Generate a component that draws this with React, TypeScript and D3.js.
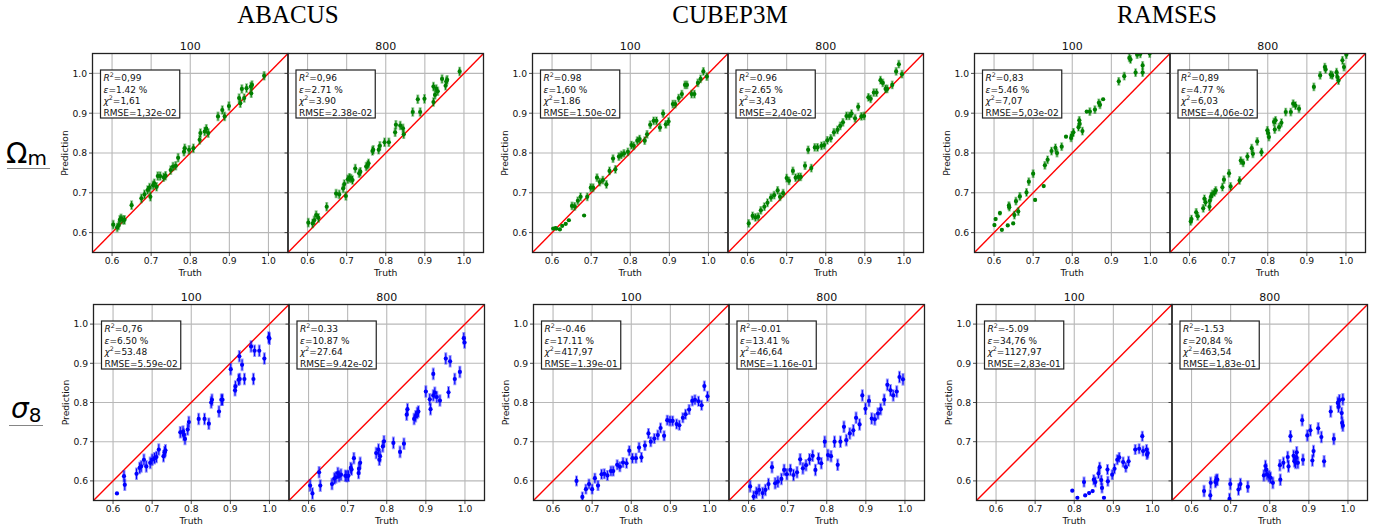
import React, { useEffect, useRef } from "react";
import * as d3 from "d3";

// ---------- labels ----------
const columns = ["ABACUS", "CUBEP3M", "RAMSES"];
const resolutions = ["100", "800"];
const tickValues = [0.6, 0.7, 0.8, 0.9, 1.0];
const tickLabels = ["0.6", "0.7", "0.8", "0.9", "1.0"];

// ---------- data: [truth, prediction, (optional) error] ----------
const abacusOm100 = [
  [0.603, 0.62], [0.613, 0.613], [0.617, 0.618], [0.62, 0.632], [0.623, 0.636], [0.628, 0.632], [0.632, 0.632],
  [0.65, 0.669], [0.675, 0.686], [0.683, 0.696], [0.691, 0.707], [0.696, 0.713], [0.698, 0.69], [0.705, 0.719],
  [0.708, 0.724], [0.714, 0.715], [0.717, 0.742], [0.723, 0.742], [0.732, 0.739], [0.737, 0.743], [0.75, 0.757],
  [0.756, 0.766], [0.763, 0.768], [0.769, 0.788], [0.784, 0.803], [0.786, 0.812], [0.797, 0.808], [0.808, 0.812],
  [0.824, 0.833], [0.826, 0.85], [0.837, 0.854], [0.841, 0.861], [0.846, 0.85], [0.871, 0.892], [0.882, 0.908],
  [0.888, 0.892], [0.899, 0.918], [0.925, 0.938], [0.928, 0.925], [0.932, 0.961], [0.938, 0.938], [0.944, 0.963],
  [0.955, 0.967], [0.958, 0.971], [0.956, 0.95], [0.989, 0.994],
];
const abacusOm800 = [
  [0.602, 0.625], [0.613, 0.623], [0.617, 0.631], [0.622, 0.644], [0.628, 0.637], [0.649, 0.665], [0.673, 0.698],
  [0.681, 0.696], [0.691, 0.711], [0.694, 0.722], [0.698, 0.692], [0.703, 0.734], [0.707, 0.738], [0.711, 0.736],
  [0.715, 0.732], [0.722, 0.761], [0.732, 0.749], [0.735, 0.753], [0.75, 0.766], [0.754, 0.77], [0.756, 0.774],
  [0.766, 0.805], [0.768, 0.808], [0.782, 0.808], [0.785, 0.818], [0.797, 0.827], [0.808, 0.827], [0.824, 0.852],
  [0.826, 0.871], [0.837, 0.869], [0.844, 0.862], [0.846, 0.847], [0.869, 0.903], [0.882, 0.935], [0.888, 0.903],
  [0.899, 0.936], [0.922, 0.928], [0.922, 0.967], [0.926, 0.946], [0.929, 0.961], [0.933, 0.955], [0.944, 0.986],
  [0.953, 0.969], [0.955, 0.98], [0.957, 0.984], [0.989, 1.005],
];
const abacusS8_100 = [
  [0.61, 0.568, 0.004], [0.628, 0.612], [0.63, 0.59], [0.66, 0.618], [0.668, 0.633], [0.672, 0.637], [0.679, 0.654],
  [0.685, 0.637], [0.695, 0.646], [0.7, 0.654], [0.706, 0.658], [0.711, 0.661], [0.717, 0.68], [0.729, 0.663],
  [0.732, 0.673], [0.734, 0.678], [0.772, 0.724], [0.779, 0.726], [0.781, 0.718], [0.784, 0.707], [0.791, 0.731],
  [0.794, 0.75], [0.819, 0.758], [0.834, 0.758], [0.845, 0.746], [0.851, 0.8], [0.853, 0.807], [0.871, 0.777],
  [0.877, 0.807], [0.88, 0.807], [0.901, 0.885], [0.912, 0.831], [0.913, 0.841], [0.921, 0.858], [0.923, 0.918],
  [0.924, 0.86], [0.93, 0.896], [0.936, 0.86], [0.953, 0.943], [0.959, 0.86], [0.962, 0.932], [0.974, 0.932],
  [0.987, 0.912], [0.998, 0.966], [1.0, 0.963],
];
const abacusS8_800 = [
  [0.604, 0.588], [0.61, 0.568], [0.627, 0.622], [0.63, 0.588], [0.66, 0.592], [0.666, 0.606], [0.67, 0.609],
  [0.675, 0.62], [0.678, 0.612], [0.683, 0.616], [0.694, 0.613], [0.698, 0.612], [0.702, 0.613], [0.708, 0.633],
  [0.71, 0.629], [0.716, 0.658], [0.728, 0.62], [0.729, 0.631], [0.732, 0.646], [0.773, 0.671], [0.779, 0.68],
  [0.781, 0.654], [0.783, 0.663], [0.79, 0.688], [0.793, 0.701], [0.817, 0.697], [0.834, 0.674], [0.844, 0.695],
  [0.851, 0.769], [0.853, 0.783], [0.87, 0.758], [0.874, 0.765], [0.878, 0.773], [0.881, 0.777], [0.9, 0.828],
  [0.91, 0.808], [0.912, 0.783], [0.919, 0.873], [0.919, 0.818], [0.923, 0.825], [0.928, 0.814], [0.936, 0.805],
  [0.951, 0.912], [0.958, 0.826], [0.962, 0.905], [0.974, 0.86], [0.987, 0.878], [0.997, 0.964], [0.999, 0.953],
];
const cubeOm100 = [
  [0.603, 0.61, 0.004], [0.609, 0.611, 0.004], [0.611, 0.61, 0.004], [0.62, 0.608, 0.004], [0.626, 0.617, 0.004],
  [0.635, 0.622, 0.004], [0.643, 0.631, 0.004], [0.651, 0.667], [0.658, 0.666], [0.666, 0.68], [0.673, 0.69],
  [0.682, 0.643, 0.004], [0.69, 0.69], [0.699, 0.713], [0.705, 0.713], [0.715, 0.738], [0.722, 0.727], [0.73, 0.732],
  [0.739, 0.721], [0.747, 0.755], [0.756, 0.786], [0.762, 0.759], [0.771, 0.791], [0.777, 0.795], [0.784, 0.799],
  [0.794, 0.803], [0.803, 0.82], [0.809, 0.818], [0.818, 0.831], [0.824, 0.835], [0.837, 0.831], [0.843, 0.847],
  [0.851, 0.871], [0.86, 0.881], [0.867, 0.881], [0.876, 0.864], [0.884, 0.899], [0.891, 0.872], [0.898, 0.879],
  [0.909, 0.923], [0.915, 0.923], [0.924, 0.938], [0.932, 0.948], [0.94, 0.971], [0.945, 0.971], [0.957, 0.948],
  [0.964, 0.948], [0.973, 0.976], [0.98, 0.986], [0.987, 1.005], [0.996, 0.992],
];
const cubeOm800 = [
  [0.603, 0.623], [0.613, 0.642], [0.62, 0.638], [0.627, 0.64], [0.634, 0.656], [0.643, 0.665], [0.651, 0.675],
  [0.66, 0.688], [0.668, 0.694], [0.677, 0.706], [0.683, 0.69], [0.691, 0.699], [0.7, 0.737], [0.706, 0.73],
  [0.716, 0.755], [0.723, 0.738], [0.73, 0.74], [0.736, 0.74], [0.747, 0.768], [0.755, 0.808], [0.763, 0.762],
  [0.772, 0.814], [0.779, 0.814], [0.789, 0.818], [0.796, 0.82], [0.804, 0.832], [0.813, 0.837], [0.821, 0.852],
  [0.83, 0.858], [0.837, 0.868], [0.844, 0.877], [0.853, 0.893], [0.86, 0.893], [0.866, 0.899], [0.875, 0.887],
  [0.883, 0.916], [0.891, 0.892], [0.898, 0.893], [0.909, 0.94], [0.915, 0.936], [0.923, 0.952], [0.93, 0.952],
  [0.94, 0.983], [0.946, 0.976], [0.953, 0.961], [0.957, 0.961], [0.97, 0.971], [0.98, 1.005], [0.987, 1.023],
  [0.995, 0.998],
];
const cubeS8_100 = [
  [0.66, 0.6], [0.675, 0.559], [0.684, 0.579], [0.692, 0.592], [0.7, 0.579], [0.707, 0.607], [0.715, 0.588],
  [0.724, 0.617], [0.731, 0.618], [0.739, 0.614], [0.748, 0.625], [0.754, 0.625], [0.764, 0.641], [0.771, 0.636],
  [0.779, 0.647], [0.788, 0.645], [0.795, 0.677], [0.803, 0.658], [0.812, 0.658], [0.82, 0.685], [0.826, 0.66],
  [0.835, 0.69], [0.844, 0.721], [0.85, 0.7], [0.859, 0.708], [0.868, 0.717], [0.875, 0.735], [0.884, 0.715],
  [0.892, 0.755], [0.899, 0.753], [0.906, 0.753], [0.916, 0.745], [0.923, 0.742], [0.932, 0.761], [0.939, 0.77],
  [0.948, 0.782], [0.956, 0.804], [0.963, 0.807], [0.972, 0.803], [0.98, 0.793], [0.987, 0.842], [0.995, 0.816],
];
const cubeS8_800 = [
  [0.604, 0.586], [0.613, 0.56], [0.62, 0.57], [0.627, 0.577], [0.636, 0.569], [0.643, 0.577], [0.651, 0.592],
  [0.66, 0.635], [0.668, 0.594], [0.675, 0.598], [0.684, 0.605], [0.691, 0.628], [0.698, 0.617], [0.707, 0.628],
  [0.715, 0.615], [0.724, 0.622], [0.732, 0.655], [0.739, 0.632], [0.747, 0.64], [0.756, 0.655], [0.764, 0.664],
  [0.771, 0.628], [0.779, 0.657], [0.786, 0.645], [0.795, 0.7], [0.803, 0.666], [0.811, 0.663], [0.82, 0.7],
  [0.828, 0.641], [0.835, 0.7], [0.844, 0.738], [0.85, 0.704], [0.859, 0.721], [0.868, 0.729], [0.875, 0.761],
  [0.884, 0.744], [0.891, 0.818], [0.899, 0.784], [0.908, 0.804], [0.915, 0.759], [0.923, 0.757], [0.931, 0.772],
  [0.938, 0.783], [0.947, 0.807], [0.955, 0.845], [0.963, 0.831], [0.97, 0.818], [0.979, 0.828], [0.986, 0.865],
  [0.995, 0.859],
];
const ramsesOm100 = [
  [0.601, 0.619, 0.005], [0.604, 0.634, 0.005], [0.615, 0.649, 0.006], [0.62, 0.607, 0.004], [0.635, 0.618, 0.004],
  [0.638, 0.668], [0.639, 0.664], [0.649, 0.623, 0.004], [0.652, 0.644], [0.656, 0.679], [0.662, 0.653],
  [0.666, 0.691], [0.683, 0.701], [0.689, 0.728], [0.7, 0.748], [0.705, 0.682, 0.004], [0.727, 0.717, 0.004],
  [0.73, 0.769], [0.737, 0.783], [0.747, 0.805], [0.757, 0.813], [0.761, 0.8], [0.773, 0.816], [0.784, 0.841, 0.004],
  [0.797, 0.838], [0.799, 0.844], [0.803, 0.852], [0.816, 0.865], [0.818, 0.882], [0.819, 0.873], [0.826, 0.855],
  [0.837, 0.904, 0.004], [0.845, 0.904], [0.858, 0.909], [0.868, 0.926], [0.871, 0.921], [0.879, 0.935, 0.004],
  [0.919, 0.98], [0.933, 0.993], [0.946, 1.039], [0.949, 1.035], [0.962, 1.002], [0.966, 1.047], [0.974, 1.049],
  [0.98, 1.02], [0.98, 1.002], [0.998, 1.05],
];
const ramsesOm800 = [
  [0.603, 0.628], [0.605, 0.634], [0.617, 0.651], [0.621, 0.641], [0.635, 0.661], [0.638, 0.685], [0.641, 0.676],
  [0.651, 0.665], [0.652, 0.68], [0.655, 0.691], [0.658, 0.697], [0.664, 0.701], [0.667, 0.706], [0.684, 0.714],
  [0.688, 0.733], [0.701, 0.749], [0.705, 0.716], [0.728, 0.731], [0.731, 0.781], [0.737, 0.775], [0.748, 0.791],
  [0.759, 0.812], [0.762, 0.798], [0.773, 0.829], [0.784, 0.802], [0.799, 0.857], [0.801, 0.85], [0.803, 0.84],
  [0.816, 0.878], [0.818, 0.859], [0.82, 0.882], [0.829, 0.865], [0.835, 0.876], [0.846, 0.903], [0.859, 0.903],
  [0.865, 0.924], [0.871, 0.919], [0.88, 0.911], [0.918, 0.966], [0.934, 0.995], [0.946, 1.016], [0.948, 1.01],
  [0.961, 0.997], [0.965, 0.995], [0.976, 1.003], [0.978, 0.991], [0.981, 0.982], [0.991, 1.033], [0.995, 1.016],
  [1.001, 1.047],
];
const ramsesS8_100 = [
  [0.795, 0.575, 0.004], [0.808, 0.557, 0.004], [0.825, 0.597], [0.828, 0.563, 0.004], [0.838, 0.569, 0.004],
  [0.847, 0.574, 0.004], [0.85, 0.603], [0.854, 0.597], [0.862, 0.619], [0.865, 0.635], [0.869, 0.602],
  [0.871, 0.582], [0.876, 0.557, 0.004], [0.885, 0.629], [0.886, 0.599], [0.897, 0.616], [0.903, 0.631],
  [0.91, 0.654], [0.915, 0.66], [0.925, 0.648], [0.932, 0.635], [0.939, 0.65], [0.956, 0.68], [0.966, 0.682],
  [0.974, 0.714], [0.976, 0.676], [0.985, 0.68], [0.986, 0.667], [0.988, 0.671],
];
const ramsesS8_800 = [
  [0.632, 0.574], [0.648, 0.563], [0.649, 0.595], [0.661, 0.597], [0.663, 0.602], [0.666, 0.603], [0.697, 0.554],
  [0.699, 0.592], [0.72, 0.578], [0.725, 0.592], [0.744, 0.585], [0.785, 0.614], [0.789, 0.638], [0.791, 0.629],
  [0.793, 0.617], [0.798, 0.612], [0.802, 0.608], [0.808, 0.595], [0.826, 0.64], [0.827, 0.603], [0.835, 0.646],
  [0.846, 0.661], [0.848, 0.637], [0.853, 0.714], [0.861, 0.664], [0.863, 0.65], [0.866, 0.646], [0.868, 0.66],
  [0.869, 0.673], [0.872, 0.646], [0.883, 0.755], [0.885, 0.654], [0.896, 0.716], [0.904, 0.729], [0.909, 0.652],
  [0.912, 0.676], [0.924, 0.734], [0.932, 0.712], [0.939, 0.65], [0.956, 0.777], [0.964, 0.707], [0.974, 0.799],
  [0.976, 0.789], [0.978, 0.806], [0.984, 0.773], [0.985, 0.748], [0.987, 0.808], [0.987, 0.741],
];

// ---------- stats shown in boxes: R2, epsilon, chi2, RMSE ----------
const abacusOm100Stats = ["0,99", "1.42", "1,61", "1,32e-02"];
const abacusOm800Stats = ["0,96", "2.71", "3.90", "2.38e-02"];
const cubeOm100Stats = ["0.98", "1,60", "1.86", "1.50e-02"];
const cubeOm800Stats = ["0.96", "2.65", "3,43", "2,40e-02"];
const ramsesOm100Stats = ["0,83", "5.46", "7,07", "5,03e-02"];
const ramsesOm800Stats = ["0,89", "4.77", "6,03", "4,06e-02"];
const abacusS8_100Stats = ["0,76", "6.50", "53.48", "5.59e-02"];
const abacusS8_800Stats = ["0.33", "10.87", "27.64", "9.42e-02"];
const cubeS8_100Stats = ["-0.46", "17.11", "417,97", "1.39e-01"];
const cubeS8_800Stats = ["-0.01", "13.41", "46,64", "1.16e-01"];
const ramsesS8_100Stats = ["-5.09", "34,76", "1127,97", "2,83e-01"];
const ramsesS8_800Stats = ["-1.53", "20,84", "463,54", "1,83e-01"];

// ---------- layout ----------
const W = 1392;
const H = 531;
const PW = 195.5;
const rowTop = [53.5, 304.5];
const rowBottom = [252.5, 500.5];
const colLeft = [
  [92.5, 532.5, 974.5],
  [93.5, 533.5, 976.5],
];
const colTitleX = [288, 730, 1167];
const rowColors = ["#008000", "#0000ff"];

const panels = [
  { r: 0, c: 0, s: 0, data: abacusOm100, stats: abacusOm100Stats, err: 0.012 },
  { r: 0, c: 0, s: 1, data: abacusOm800, stats: abacusOm800Stats, err: 0.012 },
  { r: 0, c: 1, s: 0, data: cubeOm100, stats: cubeOm100Stats, err: 0.011 },
  { r: 0, c: 1, s: 1, data: cubeOm800, stats: cubeOm800Stats, err: 0.011 },
  { r: 0, c: 2, s: 0, data: ramsesOm100, stats: ramsesOm100Stats, err: 0.011 },
  { r: 0, c: 2, s: 1, data: ramsesOm800, stats: ramsesOm800Stats, err: 0.011 },
  { r: 1, c: 0, s: 0, data: abacusS8_100, stats: abacusS8_100Stats, err: 0.016 },
  { r: 1, c: 0, s: 1, data: abacusS8_800, stats: abacusS8_800Stats, err: 0.016 },
  { r: 1, c: 1, s: 0, data: cubeS8_100, stats: cubeS8_100Stats, err: 0.014 },
  { r: 1, c: 1, s: 1, data: cubeS8_800, stats: cubeS8_800Stats, err: 0.016 },
  { r: 1, c: 2, s: 0, data: ramsesS8_100, stats: ramsesS8_100Stats, err: 0.014 },
  { r: 1, c: 2, s: 1, data: ramsesS8_800, stats: ramsesS8_800Stats, err: 0.016 },
];

const SANS = "'DejaVu Sans', Verdana, sans-serif";

export default function App() {
  const ref = useRef<SVGSVGElement | null>(null);

  useEffect(() => {
    const svg = d3.select(ref.current);
    svg.selectAll("*").remove();
    svg.append("rect").attr("width", W).attr("height", H).attr("fill", "#fff");
    const defs = svg.append("defs");

    // column titles
    columns.forEach((t, i) => {
      svg.append("text").attr("x", colTitleX[i]).attr("y", 22.7).attr("text-anchor", "middle")
        .attr("font-family", "'Liberation Serif', 'Times New Roman', serif").attr("font-size", 25)
        .attr("fill", "#000").text(t);
    });

    // row labels
    const om = svg.append("text").attr("x", 6).attr("y", 163).attr("font-family", SANS).attr("fill", "#000");
    om.append("tspan").attr("font-size", 28).text("Ω");
    om.append("tspan").attr("font-size", 20).attr("dy", 2).text("m");
    svg.append("line").attr("x1", 7).attr("x2", 50).attr("y1", 168.5).attr("y2", 168.5).attr("stroke", "#666").attr("stroke-width", 0.8);
    const s8 = svg.append("text").attr("x", 11).attr("y", 418).attr("font-family", SANS).attr("fill", "#000");
    s8.append("tspan").attr("font-size", 28).attr("font-style", "italic").text("σ");
    s8.append("tspan").attr("font-size", 20).attr("dy", 4).text("8");
    svg.append("line").attr("x1", 9).attr("x2", 43).attr("y1", 425.5).attr("y2", 425.5).attr("stroke", "#666").attr("stroke-width", 0.8);

    panels.forEach((p, idx) => {
      const x0 = colLeft[p.r][p.c] + p.s * PW;
      const top = rowTop[p.r];
      const bottom = rowBottom[p.r];
      const x = d3.scaleLinear().domain([0.55, 1.05]).range([x0, x0 + PW]);
      const y = d3.scaleLinear().domain([0.55, 1.05]).range([bottom, top]);
      const g = svg.append("g");
      const color = rowColors[p.r];

      const clipId = `clip${idx}`;
      defs.append("clipPath").attr("id", clipId).append("rect")
        .attr("x", x0).attr("y", top).attr("width", PW).attr("height", bottom - top);

      // grid
      tickValues.forEach((t) => {
        g.append("line").attr("x1", x(t)).attr("x2", x(t)).attr("y1", top).attr("y2", bottom)
          .attr("stroke", "#b8b8b8").attr("stroke-width", 1.1);
        g.append("line").attr("x1", x0).attr("x2", x0 + PW).attr("y1", y(t)).attr("y2", y(t))
          .attr("stroke", "#b8b8b8").attr("stroke-width", 1.1);
      });

      const inner = g.append("g").attr("clip-path", `url(#${clipId})`);
      // identity line
      const line = d3.line<number>().x((d) => x(d)).y((d) => y(d));
      inner.append("path").attr("d", line([0.55, 1.05]) as string).attr("stroke", "#ff0000")
        .attr("stroke-width", 1.4).attr("fill", "none");

      // points with error bars
      p.data.forEach((d) => {
        const e = d[2] !== undefined ? d[2] : p.err;
        inner.append("line").attr("x1", x(d[0])).attr("x2", x(d[0])).attr("y1", y(d[1] - e)).attr("y2", y(d[1] + e))
          .attr("stroke", color).attr("stroke-width", 3).attr("stroke-opacity", 0.4);
        inner.append("line").attr("x1", x(d[0])).attr("x2", x(d[0])).attr("y1", y(d[1] - e * 0.85)).attr("y2", y(d[1] + e * 0.85))
          .attr("stroke", color).attr("stroke-width", 1);
        inner.append("circle").attr("cx", x(d[0])).attr("cy", y(d[1])).attr("r", 2.1).attr("fill", color);
      });

      // frame
      g.append("rect").attr("x", x0).attr("y", top).attr("width", PW).attr("height", bottom - top)
        .attr("fill", "none").attr("stroke", "#222").attr("stroke-width", 1.3);

      // ticks
      tickValues.forEach((t, i) => {
        g.append("line").attr("x1", x(t)).attr("x2", x(t)).attr("y1", bottom).attr("y2", bottom + 3.5)
          .attr("stroke", "#222").attr("stroke-width", 0.8);
        g.append("line").attr("x1", x0).attr("x2", x0 - 3.5).attr("y1", y(t)).attr("y2", y(t))
          .attr("stroke", "#222").attr("stroke-width", 0.8);
        g.append("text").attr("x", x(t)).attr("y", bottom + 11.5).attr("text-anchor", "middle")
          .attr("font-family", SANS).attr("font-size", 9.2).attr("fill", "#111").text(tickLabels[i]);
        if (p.s === 0) {
          g.append("text").attr("x", x0 - 5.5).attr("y", y(t) + 3.3).attr("text-anchor", "end")
            .attr("font-family", SANS).attr("font-size", 9.2).attr("fill", "#111").text(tickLabels[i]);
        }
      });

      // subplot title, axis labels
      g.append("text").attr("x", x0 + PW / 2).attr("y", top - 3.5).attr("text-anchor", "middle")
        .attr("font-family", SANS).attr("font-size", 11).attr("fill", "#111").text(resolutions[p.s]);
      g.append("text").attr("x", x0 + PW / 2).attr("y", bottom + 23.5).attr("text-anchor", "middle")
        .attr("font-family", SANS).attr("font-size", 9.2).attr("fill", "#111").text("Truth");
      if (p.s === 0) {
        const cy = (top + bottom) / 2;
        g.append("text").attr("transform", `translate(${x0 - 24.5},${cy}) rotate(-90)`).attr("text-anchor", "middle")
          .attr("font-family", SANS).attr("font-size", 9.2).attr("fill", "#111").text("Prediction");
      }

      // stats box
      const bx = x0 + 8;
      const by = top + 16.5;
      const box = g.append("rect").attr("x", bx).attr("y", by).attr("height", 48)
        .attr("fill", "#fff").attr("stroke", "#222").attr("stroke-width", 1.2);
      const tg = g.append("g").attr("font-family", SANS).attr("font-size", 9).attr("fill", "#111");
      const tx = bx + 3;
      const l1 = tg.append("text").attr("x", tx).attr("y", top + 27.5);
      l1.append("tspan").attr("font-style", "italic").text("R");
      l1.append("tspan").attr("font-size", 6.3).attr("dy", -3.6).text("2");
      l1.append("tspan").attr("dy", 3.6).text("=" + p.stats[0]);
      const l2 = tg.append("text").attr("x", tx).attr("y", top + 39);
      l2.append("tspan").attr("font-style", "italic").text("ε");
      l2.append("tspan").text("=" + p.stats[1] + " %");
      const l3 = tg.append("text").attr("x", tx).attr("y", top + 50.5);
      l3.append("tspan").attr("font-style", "italic").text("χ");
      l3.append("tspan").attr("font-size", 6.3).attr("dy", -3.6).text("2");
      l3.append("tspan").attr("dy", 3.6).text("=" + p.stats[2]);
      tg.append("text").attr("x", tx).attr("y", top + 62).text("RMSE=" + p.stats[3]);
      const bb = (tg.node() as SVGGElement).getBBox();
      box.attr("width", bb.x + bb.width - bx + 3);
    });
  }, []);

  return (
    <svg ref={ref} width={W} height={H} style={{ position: "absolute", left: 0, top: 0, display: "block" }} />
  );
}
